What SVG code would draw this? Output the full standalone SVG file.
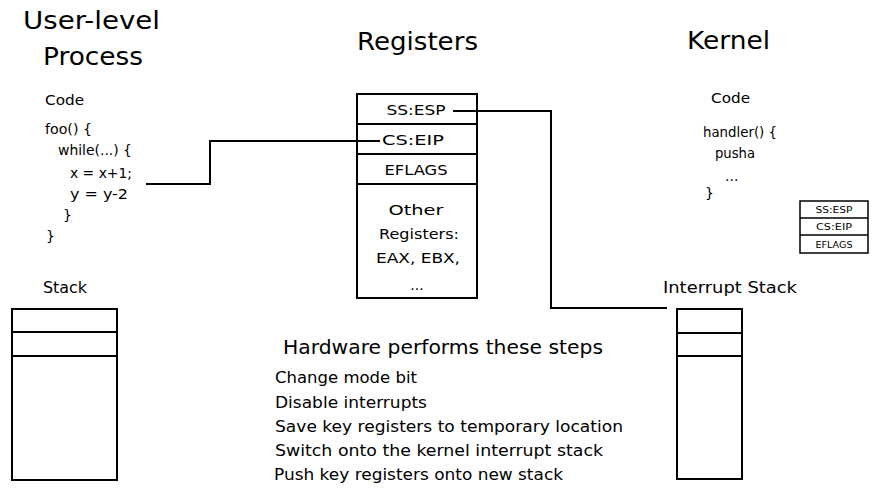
<svg xmlns="http://www.w3.org/2000/svg" width="875" height="488" viewBox="0 0 875 488">
<style>
text{font-family:"DejaVu Sans","Liberation Sans",sans-serif;fill:#000}
.t{font-size:24px}
.c{font-size:14px}
.r{font-size:14px;text-anchor:middle}
.s{font-size:8px;text-anchor:middle}
.h{font-size:20px}
.st{font-size:15px}
rect,line,path{fill:none;stroke:#000;stroke-width:2}
.thin{stroke-width:1.5}
</style>
<rect width="875" height="488" style="fill:#fff;stroke:none"/>
<g id="titles">
<text class="t" x="23" y="29" textLength="137" lengthAdjust="spacingAndGlyphs">User-level</text>
<text class="t" x="43" y="65" textLength="100" lengthAdjust="spacingAndGlyphs">Process</text>
<text class="t" x="357" y="50" textLength="121" lengthAdjust="spacingAndGlyphs">Registers</text>
<text class="t" x="687" y="49" textLength="83" lengthAdjust="spacingAndGlyphs">Kernel</text>
</g>
<g id="user-code">
<text class="c" x="45" y="105" textLength="39" lengthAdjust="spacingAndGlyphs">Code</text>
<text class="c" x="45" y="134" textLength="47" lengthAdjust="spacingAndGlyphs">foo() {</text>
<text class="c" x="58" y="155" textLength="74" lengthAdjust="spacingAndGlyphs">while(...) {</text>
<text class="c" x="70" y="178" textLength="62" lengthAdjust="spacingAndGlyphs">x = x+1;</text>
<text class="c" x="70" y="199" textLength="58" lengthAdjust="spacingAndGlyphs">y = y-2</text>
<text class="c" x="63" y="220">}</text>
<text class="c" x="46" y="241">}</text>
</g>
<g id="user-stack">
<text class="st" x="43" y="293" textLength="44" lengthAdjust="spacingAndGlyphs">Stack</text>
<rect x="12" y="309" width="105" height="171"/>
<line x1="12" y1="332" x2="117" y2="332"/>
<line x1="12" y1="356" x2="117" y2="356"/>
</g>
<g id="registers">
<rect x="357" y="94" width="120" height="204"/>
<line x1="357" y1="124" x2="477" y2="124"/>
<line x1="357" y1="154" x2="477" y2="154"/>
<line x1="357" y1="184" x2="477" y2="184"/>
<text class="r" x="416" y="115" textLength="59" lengthAdjust="spacingAndGlyphs">SS:ESP</text>
<text class="r" x="413" y="145" textLength="62" lengthAdjust="spacingAndGlyphs">CS:EIP</text>
<text class="r" x="416" y="175" textLength="63" lengthAdjust="spacingAndGlyphs">EFLAGS</text>
<text class="r" x="416" y="215" textLength="55" lengthAdjust="spacingAndGlyphs">Other</text>
<text class="r" x="419" y="239" textLength="80" lengthAdjust="spacingAndGlyphs">Registers:</text>
<text class="r" x="418" y="263" textLength="84" lengthAdjust="spacingAndGlyphs">EAX, EBX,</text>
<text class="r" x="417" y="290">...</text>
</g>
<g id="kernel-code">
<text class="c" x="711" y="103" textLength="39" lengthAdjust="spacingAndGlyphs">Code</text>
<text class="c" x="703" y="137" textLength="74" lengthAdjust="spacingAndGlyphs">handler() {</text>
<text class="c" x="715" y="158" textLength="40" lengthAdjust="spacingAndGlyphs">pusha</text>
<text class="c" x="725" y="181">...</text>
<text class="c" x="705" y="198">}</text>
</g>
<g id="saved-regs">
<rect x="800" y="201" width="68" height="52" class="thin"/>
<line x1="800" y1="218" x2="868" y2="218" class="thin"/>
<line x1="800" y1="235" x2="868" y2="235" class="thin"/>
<text class="s" x="834" y="213" textLength="37" lengthAdjust="spacingAndGlyphs">SS:ESP</text>
<text class="s" x="834" y="230" textLength="36" lengthAdjust="spacingAndGlyphs">CS:EIP</text>
<text class="s" x="834" y="248" textLength="37" lengthAdjust="spacingAndGlyphs">EFLAGS</text>
</g>
<g id="interrupt-stack">
<text class="st" x="663" y="293" textLength="134" lengthAdjust="spacingAndGlyphs">Interrupt Stack</text>
<rect x="677" y="309" width="65" height="170"/>
<line x1="677" y1="333" x2="742" y2="333"/>
<line x1="677" y1="356" x2="742" y2="356"/>
</g>
<g id="steps">
<text class="h" x="283" y="354" textLength="320" lengthAdjust="spacingAndGlyphs">Hardware performs these steps</text>
<text class="st" x="275" y="383" textLength="142" lengthAdjust="spacingAndGlyphs">Change mode bit</text>
<text class="st" x="275" y="408" textLength="152" lengthAdjust="spacingAndGlyphs">Disable interrupts</text>
<text class="st" x="275" y="432" textLength="348" lengthAdjust="spacingAndGlyphs">Save key registers to temporary location</text>
<text class="st" x="275" y="456" textLength="328" lengthAdjust="spacingAndGlyphs">Switch onto the kernel interrupt stack</text>
<text class="st" x="274" y="480" textLength="289" lengthAdjust="spacingAndGlyphs">Push key registers onto new stack</text>
</g>
<g id="connectors">
<path d="M453,111 H551 V308 H667"/>
<path d="M380,141 H210 V184 H146"/>
</g>
</svg>
